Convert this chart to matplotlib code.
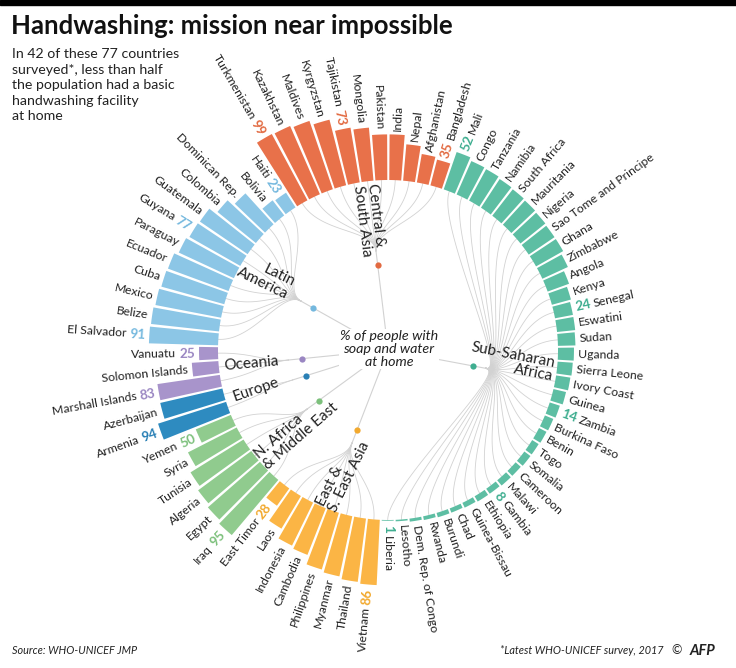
import numpy as np
import matplotlib
matplotlib.use("Agg")
import matplotlib.pyplot as plt
from matplotlib import font_manager
from matplotlib.patches import Rectangle

# ---------------- data ----------------
ssa_countries = ["Mali", "Congo", "Tanzania", "Namibia", "South Africa", "Mauritania", "Nigeria",
                 "Sao Tome and Principe", "Ghana", "Zimbabwe", "Angola", "Kenya", "Senegal", "Eswatini",
                 "Sudan", "Uganda", "Sierra Leone", "Ivory Coast", "Guinea", "Zambia", "Burkina Faso",
                 "Benin", "Togo", "Somalia", "Cameroon", "Malawi", "Gambia", "Ethiopia", "Guinea-Bissau",
                 "Chad", "Burundi", "Rwanda", "Dem. Rep. of Congo", "Lesotho", "Liberia"]
ssa_values = [52, 48, 47, 45, 44, 43, 42, 41, 41, 37, 30, 26, 24, 24, 23, 21, 20, 19, 17, 14, 12,
              11, 10, 10, 9, 9, 8, 8, 7, 6, 6, 5, 4, 2, 1]

ea_countries = ["Vietnam", "Thailand", "Myanmar", "Philippines", "Cambodia", "Indonesia", "Laos", "East Timor"]
ea_values = [86, 84, 81, 78, 66, 63, 50, 28]

name_countries = ["Iraq", "Egypt", "Algeria", "Tunisia", "Syria", "Yemen"]
name_values = [95, 91, 87, 82, 72, 50]

eu_countries = ["Armenia", "Azerbaijan"]
eu_values = [94, 84]

oc_countries = ["Marshall Islands", "Solomon Islands", "Vanuatu"]
oc_values = [83, 35, 25]

la_countries = ["El Salvador", "Belize", "Mexico", "Cuba", "Ecuador", "Paraguay", "Guyana", "Guatemala",
                "Colombia", "Dominican Rep.", "Bolivia", "Haiti"]
la_values = [91, 90, 88, 86, 85, 80, 77, 76, 65, 55, 25, 23]

ca_countries = ["Turkmenistan", "Kazakhstan", "Maldives", "Kyrgyzstan", "Tajikistan", "Mongolia",
                "Pakistan", "India", "Nepal", "Afghanistan", "Bangladesh"]
ca_values = [99, 98, 95, 89, 73, 70, 60, 60, 48, 38, 35]

region_names = ["Sub-Saharan\nAfrica", "East &\nS. East Asia", "N. Africa\n& Middle East", "Europe",
                "Oceania", "Latin\nAmerica", "Central &\nSouth Asia"]
region_countries = [ssa_countries, ea_countries, name_countries, eu_countries, oc_countries,
                    la_countries, ca_countries]
region_values = [ssa_values, ea_values, name_values, eu_values, oc_values, la_values, ca_values]

shown_values = ["Mali", "Senegal", "Zambia", "Gambia", "Liberia", "Vietnam", "East Timor", "Iraq", "Yemen",
                "Armenia", "Marshall Islands", "Vanuatu", "El Salvador", "Guyana", "Haiti",
                "Turkmenistan", "Tajikistan", "Bangladesh"]

# ---------------- styles ----------------
region_colors = ["#5dbea3", "#fbb545", "#90cb8e", "#2e8bc0", "#a894cb", "#8cc6e6", "#e8714a"]
number_colors = ["#3fae90", "#f2a92e", "#7cc07b", "#2a80b5", "#9a86c2", "#74b8de", "#e26a41"]
# label centre (pixels), rotation, multialignment
region_label_pos = [(512, 362, -11, "right"), (343, 474, 64, "left"), (296, 431, 41, "left"),
                    (256, 390, 19, "center"), (251, 364, 5, "center"), (266, 277, -26, "right"),
                    (369, 220, -83, "left")]


def pick_font(cands):
    for c in cands:
        try:
            font_manager.findfont(c, fallback_to_default=False)
            return c
        except Exception:
            pass
    return "DejaVu Sans"


BODY = pick_font(["Source Sans Pro", "Lato", "Open Sans"])
TITLE = pick_font(["Lato", "Open Sans"])
plt.rcParams["font.family"] = [BODY, "DejaVu Sans"]

W, H = 736, 668
CX, CY = 388, 350
R = 250
R0 = 170          # inner radius of bars (px)
SCALE = 0.76      # px per percentage point
START = 18.8      # clockwise-from-north angle where the first bar starts

fig = plt.figure(figsize=(W / 100, H / 100), dpi=100)
ax = fig.add_axes([(CX - R) / W, (H - CY - R) / H, 2 * R / W, 2 * R / H], projection="polar")
ax.set_theta_zero_location("N")
ax.set_theta_direction(-1)
ax.set_ylim(0, R)
ax.axis("off")


def fx(x):
    return x / W


def fy(y):
    return 1 - y / H


# flatten
names, vals, cols, ncols, reg_idx = [], [], [], [], []
for k, (cs, vs) in enumerate(zip(region_countries, region_values)):
    names += cs
    vals += vs
    cols += [region_colors[k]] * len(cs)
    ncols += [number_colors[k]] * len(cs)
    reg_idx += [k] * len(cs)
vals = np.array(vals, dtype=float)
n = len(names)
dth = 360.0 / n
centers = START + (np.arange(n) + 0.5) * dth

# bars
ax.bar(np.radians(centers), vals * SCALE, width=np.radians(dth) * 0.86, bottom=R0,
       color=cols, edgecolor="none", zorder=3)


def xy(a, r):
    a = np.radians(a)
    return r * np.sin(a), r * np.cos(a)


def to_polar(x, y):
    return np.arctan2(x, y), np.hypot(x, y)


# connecting lines
line_col = "#d2d2d2"
pos = 0
for k, cs in enumerate(region_countries):
    m = len(cs)
    mid = START + (pos + m / 2.0) * dth
    t = np.full(2, np.radians(mid))
    ax.plot(t, [0, 100], color=line_col, lw=0.8, zorder=1)
    hx, hy = xy(mid, 100)
    p1 = np.array(xy(mid, 122))
    for j in range(m):
        a = centers[pos + j]
        p0 = np.array([hx, hy])
        p2 = np.array(xy(a, 135))
        p3 = np.array(xy(a, R0))
        tt = np.linspace(0, 1, 60)[:, None]
        pts = ((1 - tt) ** 3) * p0 + 3 * ((1 - tt) ** 2) * tt * p1 + 3 * (1 - tt) * tt ** 2 * p2 + tt ** 3 * p3
        th, rr = to_polar(pts[:, 0], pts[:, 1])
        ax.plot(th, rr, color=line_col, lw=0.6, zorder=1)
    ax.plot([np.radians(mid)], [86], "o", ms=4.5, color=number_colors[k], mec="none", zorder=4)
    pos += m

# country labels
renderer = fig.canvas.get_renderer()


def text_width(s, **kw):
    t = fig.text(0, 0, s, **kw)
    w = t.get_window_extent(renderer).width
    t.remove()
    return w


lab_kw = dict(fontsize=8.8, color="#222222")
num_kw = dict(fontsize=9.8, fontweight="bold")
for i in range(n):
    a = centers[i] % 360
    right = a < 182
    rot = 90 - a if right else 270 - a
    ha = "left" if right else "right"
    r_lab = R0 + vals[i] * SCALE + 4
    th = np.radians(centers[i])
    if names[i] in shown_values:
        s = str(int(vals[i]))
        ax.text(th, r_lab, s, color=ncols[i], rotation=rot, rotation_mode="anchor",
                ha=ha, va="center", **num_kw)
        r_lab += text_width(s, **num_kw) + 3
    ax.text(th, r_lab, names[i], rotation=rot, rotation_mode="anchor", ha=ha, va="center", **lab_kw)

# region labels
for k, name in enumerate(region_names):
    x, y, rot, mal = region_label_pos[k]
    fig.text(fx(x), fy(y), name, rotation=rot, rotation_mode="anchor", ha="center", va="center",
             multialignment=mal, fontsize=11, color="#222222", linespacing=1.0)

# centre text
fig.text(fx(389), fy(349), "% of people with\nsoap and water\nat home", ha="center", va="center",
         fontsize=10.3, style="italic", color="#222222", linespacing=1.05,
         bbox=dict(boxstyle="square,pad=0.1", fc="white", ec="none"))

# header
fig.add_artist(Rectangle((0, fy(4.5)), 1, 4.5 / H, transform=fig.transFigure, color="black"))
fig.text(fx(11), fy(34), "Handwashing: mission near impossible", fontsize=18.5, fontweight="bold",
         family=[TITLE, "DejaVu Sans"], ha="left", va="baseline", color="#111111")
sub = ["In 42 of these 77 countries", "surveyed*, less than half", "the population had a basic",
       "handwashing facility", "at home"]
for j, line in enumerate(sub):
    fig.text(fx(12), fy(58 + j * 15.6), line, fontsize=10.2, ha="left", va="baseline", color="#222222")

# footer
fig.text(fx(12), fy(654), "Source: WHO-UNICEF JMP", fontsize=7.8, style="italic", ha="left",
         va="baseline", color="#222222")
fig.text(fx(664), fy(654), "*Latest WHO-UNICEF survey, 2017", fontsize=7.8, style="italic", ha="right",
         va="baseline", color="#222222")
fig.text(fx(671), fy(654), "\u00a9", fontsize=9, ha="left", va="baseline", color="#222222")
fig.text(fx(690), fy(655), "AFP", fontsize=10.5, fontweight="bold", style="italic", ha="left",
         va="baseline", color="#222222")

fig.savefig("out.png", dpi=100, facecolor="white")
